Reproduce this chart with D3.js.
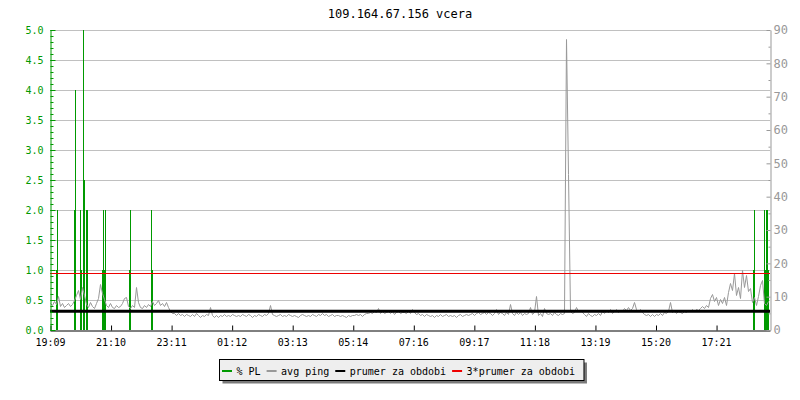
<!DOCTYPE html>
<html>
<head>
<meta charset="utf-8">
<script src="https://cdn.jsdelivr.net/npm/d3@7"></script>
<style>
  body { margin: 0; background: #fff; }
  svg { display: block; }
  text { font-family: "DejaVu Sans Mono", monospace; }
</style>
</head>
<body>
<svg id="chart"></svg>
<script>
const chartTitle = "109.164.67.156 vcera";
const startTime = new Date(2020, 0, 1, 19, 9, 27);
const spanMinutes = 1440;
const tickStepSeconds = 7266;
const timeTickLabels = ["19:09", "21:10", "23:11", "01:12", "03:13", "05:14",
  "07:16", "09:17", "11:18", "13:19", "15:20", "17:21"];
const plTickLabels = ["0.0", "0.5", "1.0", "1.5", "2.0", "2.5", "3.0", "3.5", "4.0", "4.5", "5.0"];
const pingTickLabels = ["0", "10", "20", "30", "40", "50", "60", "70", "80", "90"];

// % PL samples (minutes after start, percent)
const plMinutes = [12, 14, 48, 50, 60, 62, 66, 68, 72, 74, 104, 106, 108, 110,
  158, 160, 202, 204, 1406, 1408, 1428, 1430, 1432, 1434, 1436];
const plValues = [1.0, 2.0, 2.0, 4.0, 2.0, 1.0, 5.0, 2.5, 2.0, 2.0, 1.0, 2.0, 1.0, 2.0,
  1.0, 2.0, 2.0, 1.0, 1.0, 2.0, 2.0, 1.0, 2.0, 2.0, 1.0];

// avg ping (ms), one sample every 4 minutes
const pingStepMinutes = 4;
const avgPing = [
  8.2, 7.6, 8.8, 7.9, 10.2, 7.3, 8.0, 6.8, 7.6, 8.2,
  7.1, 7.8, 9.0, 10.5, 12.0, 9.2, 13.0, 10.4, 7.8, 6.9,
  8.3, 7.2, 6.6, 8.0, 9.6, 13.8, 11.0, 9.4, 7.4, 6.8,
  8.1, 7.0, 6.5, 7.6, 6.9, 7.3, 8.0, 9.5, 9.8, 7.2,
  6.6, 7.4, 6.9, 12.8, 8.4, 7.0, 6.6, 7.5, 6.8, 7.9,
  7.2, 8.6, 7.4, 8.0, 9.0, 7.6, 8.2, 7.3, 8.4, 7.0,
  5.6, 5.2, 5.0, 4.6, 5.1, 4.4, 4.8, 4.2, 4.9, 4.5,
  4.1, 4.7, 4.3, 5.0, 4.4, 3.9, 4.6, 4.2, 4.8, 4.5,
  7.0, 4.6, 4.0, 4.4, 3.8, 4.5, 4.1, 4.7, 4.3, 4.6,
  4.2, 4.8, 4.4, 4.1, 4.6, 4.3, 4.9, 4.5, 4.2, 4.7,
  4.4, 4.0, 4.6, 4.3, 4.8, 4.5, 4.2, 4.7, 4.4, 5.0,
  7.5, 4.8, 4.5, 4.2, 4.6, 4.9, 4.3, 4.5, 4.1, 4.7,
  4.4, 4.2, 4.6, 4.3, 4.0, 4.5, 4.8, 4.4, 4.1, 4.6,
  4.3, 4.7, 4.5, 4.2, 4.9, 4.6, 5.0, 4.4, 4.7, 4.3,
  4.5, 4.8, 4.2, 4.6, 4.4, 4.1, 4.5, 4.3, 4.0, 4.4,
  4.2, 4.6, 4.4, 4.8, 4.5, 4.7, 4.3, 4.9, 5.2, 5.0,
  5.4, 5.1, 5.6, 5.3, 6.5, 5.2, 5.7, 5.0, 5.5, 5.8,
  5.2, 5.6, 4.9, 5.4, 5.7, 5.1, 5.5, 5.3, 5.0, 5.6,
  5.2, 6.2, 5.4, 4.9, 5.1, 4.6, 4.8, 4.3, 4.7, 4.4,
  4.2, 4.6, 4.0, 4.5, 4.3, 4.7, 4.1, 4.4, 4.8, 4.2,
  4.6, 4.3, 4.5, 4.0, 4.4, 4.7, 4.2, 4.6, 4.9, 4.5,
  4.8, 5.2, 4.6, 5.0, 5.4, 4.7, 5.1, 5.5, 4.9, 5.3,
  5.0, 4.6, 5.2, 6.2, 4.8, 5.4, 5.1, 4.5, 5.3, 4.9,
  7.8, 5.0, 4.6, 5.3, 4.8, 5.5, 4.4, 5.1, 4.7, 5.2,
  7.0, 4.9, 5.4, 10.2, 4.6, 5.0, 4.3, 6.7, 5.2, 4.8,
  5.1, 4.5, 5.3, 4.9, 4.4, 5.0, 4.7, 5.2, 87.2, 46.8,
  5.6, 5.0, 5.4, 6.9, 5.8, 6.0, 5.3, 4.8, 4.3, 5.1,
  4.5, 4.2, 4.9, 4.4, 5.0, 4.6, 5.8, 5.2, 6.0, 5.5,
  6.2, 5.1, 5.7, 6.4, 5.3, 6.0, 5.6, 6.6, 5.9, 6.8,
  6.1, 6.5, 8.5, 6.3, 5.8, 6.2, 5.4, 4.8, 4.5, 4.9,
  4.3, 4.7, 4.2, 4.8, 4.4, 5.0, 4.6, 5.3, 5.0, 5.6,
  8.5, 5.4, 5.9, 5.2, 5.7, 5.3, 5.0, 5.8, 5.4, 6.1,
  5.6, 6.2, 5.8, 6.4, 5.9, 6.6, 7.2, 6.5, 7.6, 6.8,
  9.5, 10.8, 8.6, 9.8, 7.4, 9.2, 8.0, 10.0, 7.6, 11.5,
  14.2, 12.0, 17.2, 10.5, 12.8, 9.6, 18.0, 13.0, 16.4, 11.8,
  12.6, 8.4, 9.8, 7.6, 10.2, 13.5, 15.0, 8.2, 7.4, 8.8
];
const pingMean = 5.65;

const legendLabels = ["% PL", "avg ping", "prumer za obdobi", "3*prumer za obdobi"];
const legendColors = ["#009900", "#999999", "#000000", "#ee0000"];

const W = 800, H = 400;
const plotLeft = 50, plotRight = 770, plotTop = 30, plotBottom = 330;
const green = "#009900", gray = "#999999", red = "#ee0000";

const svg = d3.select("#chart").attr("width", W).attr("height", H);
svg.append("rect").attr("width", W).attr("height", H).attr("fill", "#fff");

const addMin = (m) => new Date(startTime.getTime() + m * 60000);

// scales
const x = d3.scaleTime().domain([startTime, addMin(spanMinutes)]).range([plotLeft, plotRight]);
const yPL = d3.scaleLinear().domain([0, 5]).range([plotBottom, plotTop]);
const yPing = d3.scaleLinear().domain([0, 90]).range([plotBottom, plotTop]);

// title
svg.append("text")
  .attr("x", W / 2)
  .attr("y", 18)
  .attr("text-anchor", "middle")
  .style("font-size", "12px")
  .text(chartTitle);

// horizontal grid
const plTickValues = plTickLabels.map((d) => +d);
svg.append("g")
  .selectAll("line")
  .data(plTickValues.filter((v) => v > 0))
  .enter()
  .append("line")
  .attr("x1", plotLeft)
  .attr("x2", plotRight)
  .attr("y1", (d) => Math.round(yPL(d)) + 0.5)
  .attr("y2", (d) => Math.round(yPL(d)) + 0.5)
  .attr("stroke", "#c0c0c0")
  .attr("stroke-width", 1);

// % PL bars
const plData = plMinutes.map((m, i) => ({ t: addMin(m), v: plValues[i] }));
svg.append("g")
  .selectAll("rect")
  .data(plData)
  .enter()
  .append("rect")
  .attr("x", (d) => Math.round(x(d.t)))
  .attr("width", 1)
  .attr("y", (d) => Math.round(yPL(d.v)))
  .attr("height", (d) => plotBottom - Math.round(yPL(d.v)))
  .attr("fill", green)
  .attr("shape-rendering", "crispEdges");

// avg ping line
const pingData = avgPing.map((v, i) => ({ t: addMin(i * pingStepMinutes), v: v }));
const pingLine = d3.line()
  .x((d) => Math.round(x(d.t)) + 0.5)
  .y((d) => Math.round(yPing(d.v)) + 0.5);
svg.append("path")
  .datum(pingData)
  .attr("d", pingLine)
  .attr("fill", "none")
  .attr("stroke", gray)
  .attr("stroke-width", 1);

// mean and 3*mean
svg.append("line")
  .attr("x1", plotLeft).attr("x2", plotRight)
  .attr("y1", yPing(pingMean)).attr("y2", yPing(pingMean))
  .attr("stroke", "#000").attr("stroke-width", 3);
svg.append("line")
  .attr("x1", plotLeft).attr("x2", plotRight)
  .attr("y1", Math.round(yPing(3 * pingMean)) + 0.5).attr("y2", Math.round(yPing(3 * pingMean)) + 0.5)
  .attr("stroke", red).attr("stroke-width", 1);

// x axis
const tickTimes = timeTickLabels.map((_, i) => new Date(startTime.getTime() + i * tickStepSeconds * 1000));
const xAxis = d3.axisBottom(x)
  .tickValues(tickTimes)
  .tickFormat((d, i) => timeTickLabels[i])
  .tickSizeInner(-5)
  .tickSizeOuter(0)
  .tickPadding(8);
const gx = svg.append("g")
  .attr("transform", "translate(0," + (plotBottom + 0.5) + ")")
  .call(xAxis);
gx.selectAll("text").style("font-size", "10px").attr("fill", "#000").attr("font-family", "DejaVu Sans Mono");
gx.selectAll("line").attr("stroke", "#000").attr("transform", "translate(0.5,0)");
gx.select(".domain").attr("stroke", "#000");

// left axis (% PL)
const leftAxis = d3.axisLeft(yPL)
  .tickValues(plTickValues)
  .tickFormat((d, i) => plTickLabels[i])
  .tickSizeInner(-5)
  .tickSizeOuter(0)
  .tickPadding(7);
const gl = svg.append("g")
  .attr("transform", "translate(" + (plotLeft + 0.5) + ",0)")
  .call(leftAxis);
gl.selectAll("text").style("font-size", "10px").attr("fill", green).attr("font-family", "DejaVu Sans Mono");
gl.selectAll("line").attr("stroke", green);
gl.select(".domain").attr("stroke", green);
const gl2 = svg.append("g")
  .attr("transform", "translate(" + (plotLeft + 0.5) + ",0)")
  .call(d3.axisLeft(yPL).tickValues(d3.range(0, 51).map((k) => k / 10)).tickSize(-3).tickFormat(""));
gl2.selectAll("line").attr("stroke", green);
gl2.select(".domain").remove();

// right axis (avg ping)
const pingTickValues = pingTickLabels.map((d) => +d);
const rightAxis = d3.axisRight(yPing)
  .tickValues(pingTickValues)
  .tickFormat((d, i) => pingTickLabels[i])
  .tickSizeInner(-4)
  .tickSizeOuter(0)
  .tickPadding(3);
const gr = svg.append("g")
  .attr("transform", "translate(" + (plotRight + 0.5) + ",0)")
  .call(rightAxis);
gr.selectAll("text").style("font-size", "12px").attr("fill", gray).attr("font-family", "Liberation Mono");
gr.selectAll("line").attr("stroke", gray);
gr.select(".domain").attr("stroke", gray);
const gr2 = svg.append("g")
  .attr("transform", "translate(" + (plotRight + 0.5) + ",0)")
  .call(d3.axisRight(yPing).tickValues(d3.range(5, 90, 10)).tickSize(-2).tickFormat(""));
gr2.selectAll("line").attr("stroke", gray);
gr2.select(".domain").remove();

// legend
const legend = svg.append("g");
const shadow = legend.append("rect").attr("fill", "#7a7a7a");
const box = legend.append("rect").attr("fill", "#eeeeee").attr("stroke", "#000").attr("stroke-width", 1);
let lx = 222;
const ly = 371;
legendLabels.forEach((label, i) => {
  legend.append("line")
    .attr("x1", lx).attr("x2", lx + 10)
    .attr("y1", ly).attr("y2", ly)
    .attr("stroke", legendColors[i]).attr("stroke-width", 2);
  const t = legend.append("text")
    .attr("x", lx + 14.5)
    .attr("y", ly + 3.5)
    .style("font-size", "10px")
    .attr("fill", "#000")
    .text(label);
  lx += 14.5 + t.node().getComputedTextLength() + 6;
});
const boxRight = lx + 3;
box.attr("x", 219.5).attr("y", 359.5).attr("width", boxRight - 219.5).attr("height", 21);
shadow.attr("x", 222.5).attr("y", 362.5).attr("width", boxRight - 219.5).attr("height", 21);
</script>
</body>
</html>
